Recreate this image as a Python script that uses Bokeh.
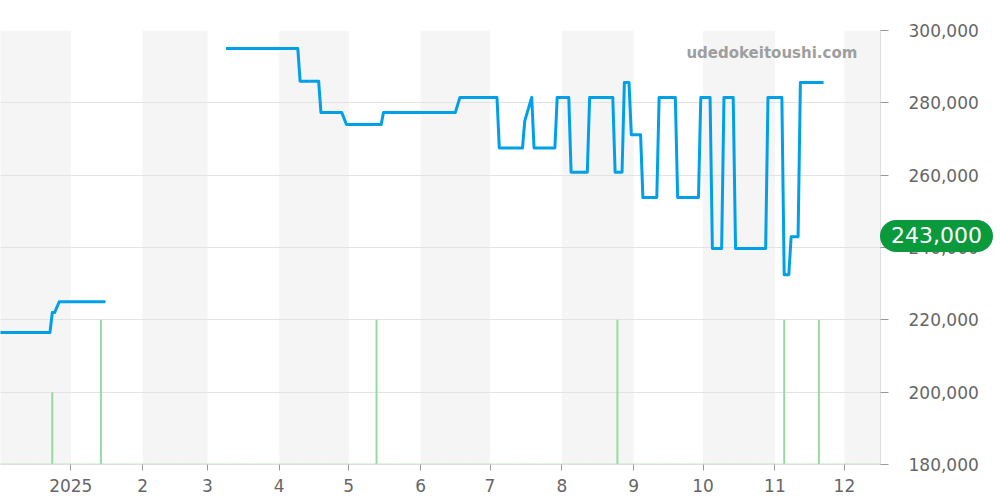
import numpy as np
import pandas as pd
from bokeh.plotting import figure
from bokeh.layouts import column
from bokeh.models import Range1d, FixedTicker, NumeralTickFormatter, Label, Div
from bokeh.embed import file_html
from bokeh.resources import INLINE

# ---------------- data ----------------
price_dates = [
    "2024-12-01", "2024-12-23", "2024-12-24", "2024-12-25", "2024-12-27", "2025-01-16",
    "2025-02-01",
    "2025-03-09", "2025-04-09", "2025-04-10", "2025-04-18", "2025-04-19", "2025-04-28",
    "2025-04-30", "2025-05-15", "2025-05-16", "2025-06-16", "2025-06-18", "2025-07-04",
    "2025-07-05", "2025-07-15", "2025-07-16", "2025-07-19", "2025-07-20", "2025-07-29",
    "2025-07-30", "2025-08-04", "2025-08-05", "2025-08-12", "2025-08-13", "2025-08-23",
    "2025-08-24", "2025-08-27", "2025-08-28", "2025-08-30", "2025-08-31", "2025-09-04",
    "2025-09-05", "2025-09-11", "2025-09-12", "2025-09-19", "2025-09-20", "2025-09-29",
    "2025-09-30", "2025-10-04", "2025-10-05", "2025-10-09", "2025-10-10", "2025-10-14",
    "2025-10-15", "2025-10-28", "2025-10-29", "2025-11-04", "2025-11-05", "2025-11-07",
    "2025-11-08", "2025-11-11", "2025-11-12", "2025-11-22",
]
price_values = [
    216500, 216500, 222000, 222000, 225000, 225000,
    np.nan,
    295000, 295000, 286000, 286000, 277300, 277300,
    274000, 274000, 277300, 277300, 281500, 281500,
    267500, 267500, 275000, 281500, 267500, 267500,
    281500, 281500, 260800, 260800, 281500, 281500,
    260800, 260800, 285600, 285600, 271200, 271200,
    253800, 253800, 281500, 281500, 253800, 253800,
    281500, 281500, 239700, 239700, 281500, 281500,
    239700, 239700, 281500, 281500, 232500, 232500,
    243000, 243000, 285600, 285600,
]

volume_dates = ["2024-12-24", "2025-01-14", "2025-05-13", "2025-08-25", "2025-11-05", "2025-11-20"]
volume_values = [1, 2, 2, 2, 2, 2]

month_ticks = ["2025-01-01", "2025-02-01", "2025-03-01", "2025-04-01", "2025-05-01", "2025-06-01",
               "2025-07-01", "2025-08-01", "2025-09-01", "2025-10-01", "2025-11-01", "2025-12-01"]
month_labels = ["2025", "2", "3", "4", "5", "6", "7", "8", "9", "10", "11", "12"]

shaded_starts = ["2024-11-01", "2025-02-01", "2025-04-01", "2025-06-01", "2025-08-01", "2025-10-01", "2025-12-01"]
shaded_ends = ["2025-01-01", "2025-03-01", "2025-05-01", "2025-07-01", "2025-09-01", "2025-11-01", "2026-01-01"]

y_ticks = [180000, 200000, 220000, 240000, 260000, 280000, 300000]
y_min, y_max = 180000, 300000
current_price = 243000
watermark = "udedokeitoushi.com"

x_start_date = "2024-12-01 15:30"
x_end_date = "2025-12-16 14:00"


def ms(s):
    return pd.Timestamp(s).value / 1e6


DAY = 86400000.0
FONT = "DejaVu Sans"
W, H = 1000, 500
BORDER_T, BORDER_R, BORDER_B = 30, 120, 36
FRAME_W, FRAME_H = W - BORDER_R, H - BORDER_T - BORDER_B
BADGE_W, BADGE_H = 113, 32

x0, x1 = ms(x_start_date), ms(x_end_date)

p = figure(width=W, height=H,
           x_range=Range1d(x0, x1), y_range=Range1d(y_min, y_max),
           y_axis_location="right", output_backend="svg", toolbar_location=None,
           min_border_left=0, min_border_top=BORDER_T, min_border_right=BORDER_R,
           min_border_bottom=BORDER_B)
p.extra_y_ranges = {"vol": Range1d(0, 6)}
p.outline_line_color = None
p.background_fill_color = "white"
p.border_fill_color = "white"

# month bands
p.quad(left=[ms(s) for s in shaded_starts], right=[ms(s) for s in shaded_ends],
       bottom=y_min, top=y_max, fill_color="#f5f5f5", line_color=None, level="image")

# grid
p.xgrid.visible = False
p.ygrid.ticker = FixedTicker(ticks=y_ticks)
p.ygrid.grid_line_color = "#e3e3e3"
p.ygrid.grid_line_width = 1

# y axis (right)
ya = p.yaxis[0]
ya.ticker = FixedTicker(ticks=y_ticks)
ya.formatter = NumeralTickFormatter(format="0,0")
ya.major_tick_out = 8
ya.major_tick_in = 0
ya.minor_tick_line_color = None
ya.major_tick_line_color = "#999999"
ya.axis_line_color = "#dddddd"
ya.major_label_standoff = 20
ya.major_label_text_font_size = "17px"
ya.major_label_text_color = "#666666"
ya.major_label_text_font = FONT

# x axis
xa = p.xaxis[0]
tick_ms = [ms(s) for s in month_ticks]
xa.ticker = FixedTicker(ticks=tick_ms)
xa.major_label_overrides = {t: l for t, l in zip(tick_ms, month_labels)}
xa.major_tick_out = 6
xa.major_tick_in = 0
xa.minor_tick_line_color = None
xa.major_tick_line_color = "#999999"
xa.axis_line_color = "#dddddd"
xa.major_label_standoff = 8
xa.major_label_text_font_size = "17px"
xa.major_label_text_color = "#666666"
xa.major_label_text_font = FONT

# volume bars
p.vbar(x=[ms(s) for s in volume_dates], top=volume_values, width=0.86 * DAY,
       y_range_name="vol", fill_color="#95dba0", line_color=None)
p.line(x=[x0, x1], y=[0, 0], y_range_name="vol", line_color="#a6e0b0",
       line_width=2, line_dash="2 1")

# price line
p.line(x=[ms(s) for s in price_dates], y=price_values, line_color="#00a0e9",
       line_width=3, line_join="round")

# watermark
p.add_layout(Label(x=ms("2025-12-06 14:00"), y=293900, text=watermark,
                   text_align="right", text_baseline="middle",
                   text_font=FONT, text_font_style="bold", text_font_size="15px",
                   text_color="#9e9e9e"))

# current price badge: an HTML pill overlaid on the right axis
badge_center_y = BORDER_T + (y_max - current_price) / (y_max - y_min) * FRAME_H
badge_top = int(round(badge_center_y - BADGE_H / 2))
badge_html = (
    f'<div style="width:{BADGE_W}px;height:{BADGE_H}px;line-height:{BADGE_H}px;'
    f'background:#0a9a3c;border-radius:16px;color:#ffffff;'
    f"font-family:'{FONT}';font-size:22px;text-align:center;white-space:nowrap;\">"
    f'{current_price:,}</div>'
)
badge = Div(text=badge_html, width=BADGE_W, height=BADGE_H,
            margin=(badge_top - H, 0, 0, FRAME_W),
            styles={"position": "relative", "z-index": "10"})

layout = column(p, badge, spacing=0)
open("out.html", "w").write(file_html(layout, INLINE))
